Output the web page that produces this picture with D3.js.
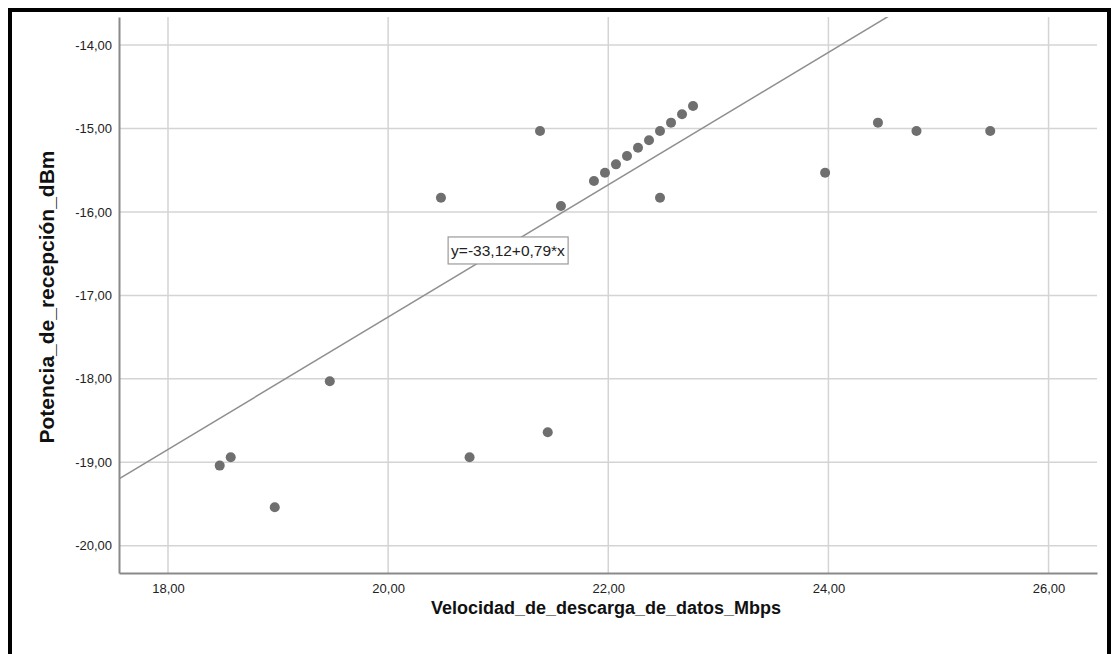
<!DOCTYPE html>
<html>
<head>
<meta charset="utf-8">
<script src="https://cdn.jsdelivr.net/npm/d3@7"></script>
<style>
  body { margin: 0; background: #fff; }
  svg { display: block; font-family: "Liberation Sans", Arial, sans-serif; }
</style>
</head>
<body>
<svg id="chart" width="1112" height="654"></svg>
<script>
// data
const velocidad = [18.47, 18.57, 18.97, 19.47, 20.48, 20.74, 21.38, 21.45, 21.57, 21.87,
    21.97, 22.07, 22.17, 22.27, 22.37, 22.47, 22.47, 22.57, 22.67, 22.77,
    23.97, 24.45, 24.80, 25.47];
const potencia = [-19.04, -18.94, -19.54, -18.03, -15.83, -18.94, -15.03, -18.64, -15.93, -15.63,
    -15.53, -15.43, -15.33, -15.23, -15.14, -15.03, -15.83, -14.93, -14.83, -14.73,
    -15.53, -14.93, -15.03, -15.03];
const xTicks = [18, 20, 22, 24, 26];
const yTicks = [-14, -15, -16, -17, -18, -19, -20];
const fit = { intercept: -33.12, slope: 0.793, label: "y=-33,12+0,79*x" };

const width = 1112, height = 654;
const margin = { top: 17, right: 15, bottom: 81, left: 119 };

const svg = d3.select("#chart");
// spanish style numbers, plain hyphen for minus
const locale = d3.formatLocale({ decimal: ",", thousands: ".", grouping: [3], currency: ["", ""], minus: "-" });
const fmt = locale.format(".2f");

const x = d3.scaleLinear()
    .domain([17.555, 26.44])
    .range([margin.left, width - margin.right]);
const y = d3.scaleLinear()
    .domain([-20.327, -13.664])
    .range([height - margin.bottom, margin.top]);

// outer frame
svg.append("rect")
    .attr("x", 10).attr("y", 10)
    .attr("width", 1099).attr("height", 700)
    .attr("fill", "none")
    .attr("stroke", "#000")
    .attr("stroke-width", 4);

// gridlines
svg.append("g")
    .attr("stroke", "#d4d4d4")
    .attr("stroke-width", 1.5)
    .selectAll("line")
    .data(xTicks)
    .join("line")
    .attr("x1", d => x(d)).attr("x2", d => x(d))
    .attr("y1", y.range()[1]).attr("y2", y.range()[0]);

svg.append("g")
    .attr("stroke", "#d4d4d4")
    .attr("stroke-width", 1.5)
    .selectAll("line")
    .data(yTicks)
    .join("line")
    .attr("x1", x.range()[0]).attr("x2", x.range()[1])
    .attr("y1", d => y(d)).attr("y2", d => y(d));

// axes
const xAxis = svg.append("g")
    .attr("transform", `translate(0,${height - margin.bottom})`)
    .call(d3.axisBottom(x).tickValues(xTicks).tickFormat(fmt).tickSize(0).tickPadding(11));
const yAxis = svg.append("g")
    .attr("transform", `translate(${margin.left},0)`)
    .call(d3.axisLeft(y).tickValues(yTicks).tickFormat(fmt).tickSize(0).tickPadding(7));

[xAxis, yAxis].forEach(a => {
    a.select(".domain").attr("stroke", "#8a8a8a").attr("stroke-width", 2);
    a.selectAll("text")
        .attr("fill", "#222")
        .style("font-size", "13px")
        .style("font-family", "'Liberation Sans', Arial, sans-serif");
});

// regression line, clipped to plot area
svg.append("clipPath").attr("id", "plotclip")
    .append("rect")
    .attr("x", margin.left).attr("y", margin.top)
    .attr("width", width - margin.left - margin.right)
    .attr("height", height - margin.top - margin.bottom);

const [x0, x1] = x.domain();
svg.append("line")
    .attr("clip-path", "url(#plotclip)")
    .attr("x1", x(x0)).attr("y1", y(fit.intercept + fit.slope * x0))
    .attr("x2", x(x1)).attr("y2", y(fit.intercept + fit.slope * x1))
    .attr("stroke", "#8f8f8f")
    .attr("stroke-width", 1.5);

// points
svg.append("g")
    .selectAll("circle")
    .data(velocidad.map((v, i) => [v, potencia[i]]))
    .join("circle")
    .attr("cx", d => x(d[0]))
    .attr("cy", d => y(d[1]))
    .attr("r", 5)
    .attr("fill", "#6f6f6f");

// equation label
const lx = x(20.545), ly = y(-16.3);
const lbl = svg.append("g").attr("transform", `translate(${lx},${ly})`);
lbl.append("rect")
    .attr("x", 0).attr("y", 0)
    .attr("width", 120).attr("height", 27)
    .attr("fill", "#fff")
    .attr("stroke", "#9a9a9a")
    .attr("stroke-width", 1.2);
lbl.append("text")
    .attr("x", 3).attr("y", 19.5)
    .attr("fill", "#222")
    .style("font-size", "15.5px")
    .text(fit.label);

// axis titles
svg.append("text")
    .attr("x", 606).attr("y", 614)
    .attr("text-anchor", "middle")
    .style("font-size", "18px")
    .style("font-weight", "bold")
    .attr("fill", "#111")
    .text("Velocidad_de_descarga_de_datos_Mbps");

svg.append("text")
    .attr("transform", "translate(54,297) rotate(-90)")
    .attr("text-anchor", "middle")
    .style("font-size", "21px")
    .style("font-weight", "bold")
    .attr("fill", "#111")
    .text("Potencia_de_recepción_dBm");
</script>
</body>
</html>
